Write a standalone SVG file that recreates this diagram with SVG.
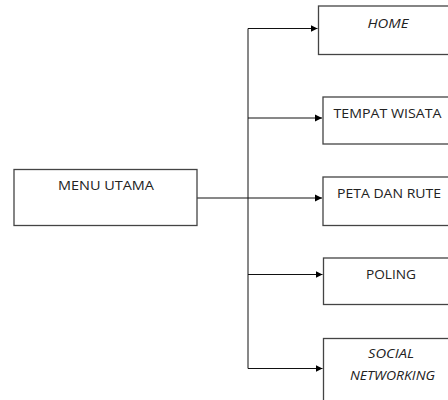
<svg xmlns="http://www.w3.org/2000/svg" width="448" height="400" viewBox="0 0 448 400">
<defs>
<marker id="ah" markerWidth="8" markerHeight="8" refX="7" refY="4" orient="auto" markerUnits="userSpaceOnUse">
<path d="M0,0.5 L7,4 L0,7.5 Z" fill="#000"/>
</marker>
<style>
.box{fill:#fff;stroke:#444;stroke-width:1.3}
.t{font-family:"Open Sans","Liberation Sans",sans-serif;font-size:13px;fill:#222;text-anchor:middle}
.i{font-style:italic}
.c{fill:none;stroke:#111;stroke-width:1}
</style>
</defs>
<rect width="448" height="400" fill="#fff"/>
<g id="connectors">
<path class="c" d="M197,198 H248"/>
<path class="c" d="M248,28.5 V368.5"/>
<path class="c" d="M248,28.5 H317.5" marker-end="url(#ah)"/>
<path class="c" d="M248,118 H322" marker-end="url(#ah)"/>
<path class="c" d="M248,198 H322" marker-end="url(#ah)"/>
<path class="c" d="M248,274.5 H322.5" marker-end="url(#ah)"/>
<path class="c" d="M248,368.5 H322.5" marker-end="url(#ah)"/>
</g>
<g id="menu-utama">
<rect class="box" x="14" y="169.5" width="183" height="56"/>
<text class="t" x="106" y="190" textLength="96" lengthAdjust="spacingAndGlyphs">MENU UTAMA</text>
</g>
<g id="home">
<rect class="box" x="318.5" y="6" width="140" height="48.5"/>
<text class="t i" x="388" y="28" textLength="41" lengthAdjust="spacingAndGlyphs">HOME</text>
</g>
<g id="tempat-wisata">
<rect class="box" x="323" y="97" width="140" height="47"/>
<text class="t" x="387.5" y="117.5" textLength="108" lengthAdjust="spacingAndGlyphs">TEMPAT WISATA</text>
</g>
<g id="peta-dan-rute">
<rect class="box" x="323" y="177" width="140" height="48.5"/>
<text class="t" x="389" y="197.5" textLength="104" lengthAdjust="spacingAndGlyphs">PETA DAN RUTE</text>
</g>
<g id="poling">
<rect class="box" x="323.5" y="258" width="140" height="46.5"/>
<text class="t" x="391" y="278.5" textLength="50" lengthAdjust="spacingAndGlyphs">POLING</text>
</g>
<g id="social-networking">
<rect class="box" x="323.5" y="338.5" width="140" height="80"/>
<text class="t i" x="391" y="358" textLength="46" lengthAdjust="spacingAndGlyphs">SOCIAL</text>
<text class="t i" x="392.5" y="380" textLength="85" lengthAdjust="spacingAndGlyphs">NETWORKING</text>
</g>
</svg>
